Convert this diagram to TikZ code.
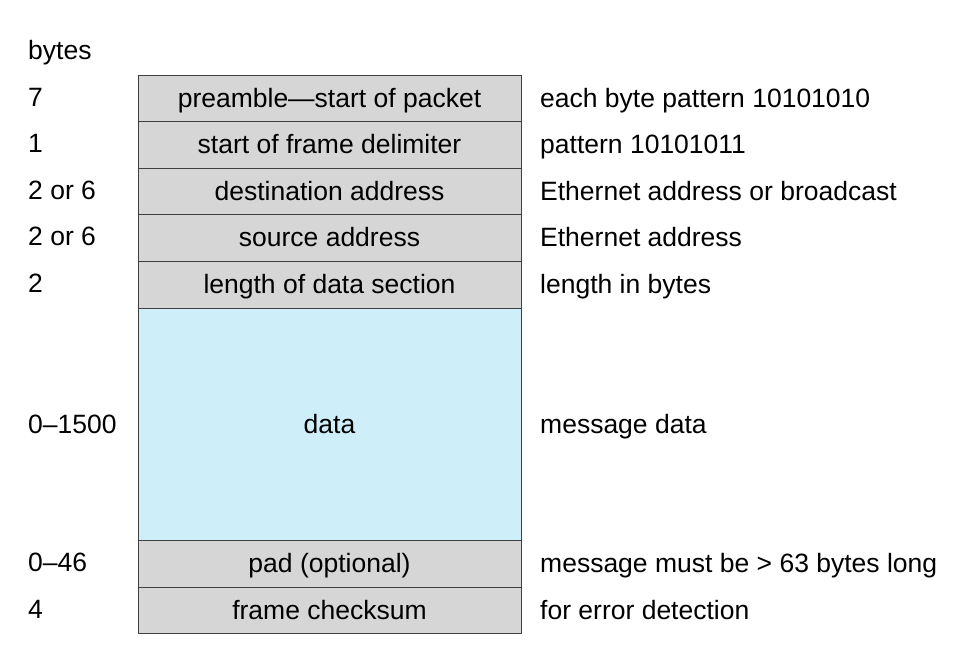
\documentclass[tikz,border=0pt]{standalone}
\usepackage{fontspec}
\setmainfont{Liberation Sans}
\begin{document}
\begin{tikzpicture}[x=1pt,y=-1pt,
  every node/.style={font=\fontsize{26.5}{30}\selectfont,inner sep=0pt},
  fld/.style={draw=black!75,line width=1pt,fill=black!16},
  lab/.style={anchor=base west},
  ctr/.style={anchor=base}]
\useasboundingbox (0,0) rectangle (978,670);
\node[lab] (b) at (28,59) {bytes};
\foreach \t/\b/\txt/\n/\r [count=\i] in {
 75/121/{preamble—start of packet}/7/{each byte pattern 10101010},
 121/168/{start of frame delimiter}/1/{pattern 10101011},
 168/214/{destination address}/2 or 6/{Ethernet address or broadcast},
 214/261/{source address}/2 or 6/{Ethernet address},
 261/308/{length of data section}/2/{length in bytes},
 540/587/{pad (optional)}/0–46/{message must be > 63 bytes long},
 587/633/{frame checksum}/4/{for error detection}}{
  \draw[fld] (138,\t) rectangle (521,\b);
  \node[ctr] (f\i) at (329.5,{(\t+\b)/2+9}) {\txt};
  \node[lab] (n\i) at (28,{(\t+\b)/2+8}) {\n};
  \node[lab] (r\i) at (540,{(\t+\b)/2+9}) {\r};
}
\draw[draw=black!75,line width=1pt,fill={rgb,255:red,206;green,238;blue,250}] (138,308) rectangle (521,540);
\node[ctr] (data) at (329.5,433) {data};
\node[lab] (nd) at (28,433) {0–1500};
\node[lab] (rd) at (540,433) {message data};
\end{tikzpicture}
\end{document}
